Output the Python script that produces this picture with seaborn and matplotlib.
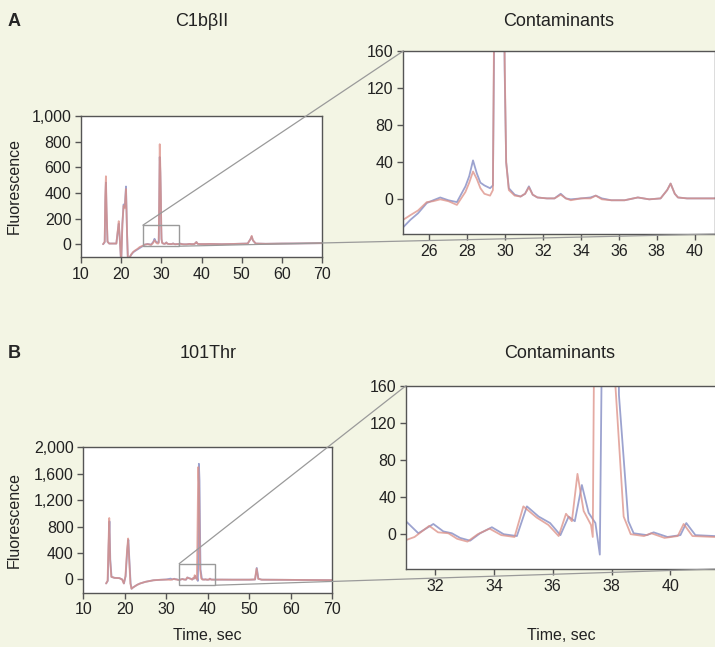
import numpy as np
import pandas as pd
import matplotlib
matplotlib.use("Agg")
import matplotlib.pyplot as plt
import seaborn as sns
from matplotlib.patches import Rectangle, ConnectionPatch
from matplotlib.ticker import StrMethodFormatter

# ---------------- data ----------------
# Panel A : C1bβII, two overlaid runs
t_A = [15.5, 15.9, 16.05, 16.2, 16.35, 16.6, 17.0, 18.0, 18.8, 19.2, 19.4, 19.7,
       20.0, 20.3, 20.6, 20.9, 21.2, 21.45, 21.7, 22.0, 22.5, 23.0, 23.5, 24.0,
       24.62, 25.0, 25.4, 25.86, 26.2, 26.57, 27.0, 27.45, 27.9, 28.1, 28.3, 28.5,
       28.69, 28.9, 29.2, 29.35, 29.45, 29.6, 29.75, 29.9, 29.97, 30.05, 30.19,
       30.5, 30.81, 31.05, 31.25, 31.45, 31.7, 32.2, 32.6, 32.93, 33.2, 33.46,
       34.0, 34.5, 34.78, 35.1, 35.6, 36.3, 37.0, 37.6, 38.2, 38.55, 38.73, 38.95,
       39.12, 39.6, 40.3, 41.0, 42.0, 45.0, 48.0, 51.5, 52.2, 52.5, 52.8, 53.5,
       56.0, 60.0, 65.0, 70.0]
red_A = [0, 20, 380, 530, 300, 20, 5, 5, 5, 120, 180, 20,
         -150, 150, 300, 280, 430, 100, -150, -110, -80, -60, -48, -38,
         -22, -17, -12, -3, -2, 0, -2, -6, 8, 18, 30, 22,
         12, 6, 4, 10, 300, 780, 600, 350, 150, 40, 10,
         4, 3, 6, 13, 5, 2, 1, 1, 5, 1, -1,
         1, 1, 4, 0, -1, -1, 2, 0, 1, 10, 17, 6,
         2, 1, 1, 1, 2, 0, 2, 5, 40, 65, 30, 5,
         3, 5, 6, 8]
blue_A = [0, 15, 330, 480, 260, 20, 5, 5, 5, 110, 160, 20,
          -150, 160, 310, 290, 450, 100, -150, -110, -82, -63, -52, -42,
          -30, -22, -15, -4, -1, 2, -1, -3, 14, 25, 42, 28,
          18, 15, 12, 15, 250, 680, 560, 330, 140, 40, 12,
          5, 3, 6, 14, 5, 2, 1, 1, 6, 1, 0,
          1, 2, 4, 1, -1, -1, 2, 0, 1, 10, 17, 6,
          2, 1, 1, 1, 2, 0, 2, 5, 40, 60, 30, 5,
          3, 5, 6, 8]

# Panel B : 101Thr, two overlaid runs (slightly shifted in time)
t_B_blue = [15.5, 15.9, 16.1, 16.3, 16.5, 16.8, 17.5, 18.7, 19.4, 19.8, 20.2, 20.6,
            20.85, 21.1, 21.4, 21.65, 22.0, 23.0, 23.7, 25.0, 26.9, 28.5, 30.0,
            31.04, 31.43, 31.94, 32.28, 32.57, 32.85, 33.19, 33.53, 33.93, 34.33,
            34.78, 35.12, 35.52, 35.91, 36.26, 36.54, 36.75, 36.99, 37.22, 37.45,
            37.6, 37.7, 37.85, 38.0, 38.15, 38.25, 38.57, 38.75, 39.2, 39.43, 39.9,
            40.34, 40.54, 40.85, 41.5, 43.0, 46.0, 50.0, 51.4, 51.8, 52.2, 53.0,
            58.0, 64.0, 70.0]
blue_B = [-60, -20, 500, 880, 300, 40, 25, 20, 0, -60, 50, 450,
          600, 300, -60, -140, -120, -80, -60, -35, -12, -5, 0,
          13, 1, 11, 3, 1, -4, -7, 1, 7.5, 0,
          -2, 30, 19, 12, -1, 19, 14, 53, 23, 12,
          -22, 300, 1750, 1500, 600, 150, 14, 1, -1, 2, -3,
          -1, 12, -1, -2, -2, -3, -3, 0, 175, 10, -3,
          -5, -8, -10]
t_B_red = [15.5, 15.85, 16.05, 16.25, 16.45, 16.75, 17.5, 18.7, 19.35, 19.75, 20.15, 20.55,
           20.8, 21.05, 21.35, 21.6, 22.0, 23.0, 23.7, 25.0, 26.9, 28.5, 30.0,
           31.04, 31.3, 31.8, 32.1, 32.45, 32.75, 33.1, 33.45, 33.85, 34.25,
           34.7, 35.0, 35.45, 35.85, 36.2, 36.45, 36.65, 36.84, 37.05, 37.3,
           37.36, 37.45, 37.7, 37.9, 38.05, 38.13, 38.41, 38.65, 39.1, 39.35, 39.8,
           40.25, 40.45, 40.75, 41.5, 43.0, 46.0, 50.0, 51.35, 51.75, 52.15, 53.0,
           58.0, 64.0, 70.0]
red_B = [-60, -20, 500, 930, 300, 40, 25, 20, 0, -60, 50, 450,
         620, 300, -60, -140, -120, -80, -60, -35, -12, -5, -2,
         -6, -3, 9, 2, 1, -5, -8, 0, 6, -1,
         -3, 30, 18, 10, -2, 22, 14, 65, 25, 10,
         -3, 400, 1700, 1400, 500, 160, 19, 0, -2, 1, -4,
         -2, 11, -2, -3, -2, -3, -3, 0, 165, 10, -3,
         -5, -8, -10]

y_ticks_A = [0, 200, 400, 600, 800, 1000]
y_ticks_B = [0, 400, 800, 1200, 1600, 2000]
x_ticks_main = [10, 20, 30, 40, 50, 60, 70]
y_ticks_zoom = [0, 40, 80, 120, 160]
x_ticks_zoom_A = [26, 28, 30, 32, 34, 36, 38, 40]
x_ticks_zoom_B = [32, 34, 36, 38, 40]

# ---------------- style ----------------
sns.set_theme(style="ticks")
plt.rcParams['font.family'] = ['Liberation Sans', 'DejaVu Sans']
BG = "#f3f5e4"
SP = "#555555"
RED = "#dc8e84"
BLUE = "#848cc4"
FS = 11.5

fig = plt.figure(figsize=(7.15, 6.47), dpi=100, facecolor=BG)
W, H = 715.0, 647.0


def add_ax(x0, y0, x1, y1):
    return fig.add_axes([x0 / W, 1 - y1 / H, (x1 - x0) / W, (y1 - y0) / H])


axA = add_ax(81, 116, 322, 257)
axAz = add_ax(403.3, 51, 715.5, 234)
axB = add_ax(83.3, 447.3, 332.3, 592.7)
axBz = add_ax(406, 385.7, 716, 569)

dfA = pd.DataFrame({"t": t_A, "red": red_A, "blue": blue_A})
dfBr = pd.DataFrame({"t": t_B_red, "v": red_B})
dfBb = pd.DataFrame({"t": t_B_blue, "v": blue_B})

for ax in (axA, axAz):
    sns.lineplot(data=dfA, x="t", y="blue", ax=ax, color=BLUE, lw=1.3, alpha=0.8,
                 estimator=None, sort=False)
    sns.lineplot(data=dfA, x="t", y="red", ax=ax, color=RED, lw=1.3, alpha=0.75,
                 estimator=None, sort=False)
for ax in (axB, axBz):
    sns.lineplot(data=dfBb, x="t", y="v", ax=ax, color=BLUE, lw=1.3, alpha=0.8,
                 estimator=None, sort=False)
    sns.lineplot(data=dfBr, x="t", y="v", ax=ax, color=RED, lw=1.3, alpha=0.75,
                 estimator=None, sort=False)

axA.set_xlim(10, 70); axA.set_ylim(-100, 1000)
axA.set_xticks(x_ticks_main); axA.set_yticks(y_ticks_A)
axB.set_xlim(10, 70); axB.set_ylim(-200, 2000)
axB.set_xticks(x_ticks_main); axB.set_yticks(y_ticks_B)
axAz.set_xlim(24.62, 41.1); axAz.set_ylim(-37.4, 160)
axAz.set_xticks(x_ticks_zoom_A); axAz.set_yticks(y_ticks_zoom)
axBz.set_xlim(31.01, 41.55); axBz.set_ylim(-37.5, 160)
axBz.set_xticks(x_ticks_zoom_B); axBz.set_yticks(y_ticks_zoom)

for ax in (axA, axAz, axB, axBz):
    ax.set_facecolor("white")
    ax.set_xlabel("")
    ax.set_ylabel("")
    for s in ax.spines.values():
        s.set_visible(True)
        s.set_color(SP)
        s.set_linewidth(1.0)
    ax.tick_params(axis="both", direction="out", length=4, width=1, color=SP,
                   labelsize=FS, labelcolor="#222222", pad=3,
                   top=False, right=False)
    ax.yaxis.set_major_formatter(StrMethodFormatter("{x:,.0f}"))

# zoom boxes and connectors
GR = "#9a9a9a"
boxA = (25.4, -16, 34.3, 148)
boxB = (33.1, -87, 41.8, 239)
for ax, axz, (x0, y0, x1, y1) in ((axA, axAz, boxA), (axB, axBz, boxB)):
    ax.add_patch(Rectangle((x0, y0), x1 - x0, y1 - y0, fill=False, ec=GR, lw=1.0,
                           zorder=5, clip_on=False))
    c1 = ConnectionPatch(xyA=(x0, y1), coordsA=ax.transData, xyB=(0, 1),
                         coordsB=axz.transAxes, color=GR, lw=0.9, zorder=6)
    c2 = ConnectionPatch(xyA=(x1, y0), coordsA=ax.transData, xyB=(1, 0),
                         coordsB=axz.transAxes, color=GR, lw=0.9, zorder=6)
    fig.add_artist(c1)
    fig.add_artist(c2)

# texts
def ftext(x, y, s, **kw):
    fig.text(x / W, 1 - y / H, s, **kw)

ftext(14, 25.5, "A", fontsize=13, fontweight="bold", ha="center", va="baseline")
ftext(201.5, 26, "C1bβII", fontsize=13, ha="center", va="baseline", color="#222222")
ftext(559, 26, "Contaminants", fontsize=13, ha="center", va="baseline", color="#222222")
ftext(14, 358, "B", fontsize=13, fontweight="bold", ha="center", va="baseline")
ftext(207.8, 358.5, "101Thr", fontsize=13, ha="center", va="baseline", color="#222222")
ftext(560, 358.5, "Contaminants", fontsize=13, ha="center", va="baseline", color="#222222")
ftext(14, 186.5, "Fluorescence", fontsize=FS, rotation=90, ha="center", va="center", color="#222222")
ftext(14, 520, "Fluorescence", fontsize=FS, rotation=90, ha="center", va="center", color="#222222")
ftext(207.8, 640, "Time, sec", fontsize=FS, ha="center", va="baseline", color="#222222")
ftext(561, 640, "Time, sec", fontsize=FS, ha="center", va="baseline", color="#222222")

fig.savefig("out.png", dpi=100, facecolor=BG)
